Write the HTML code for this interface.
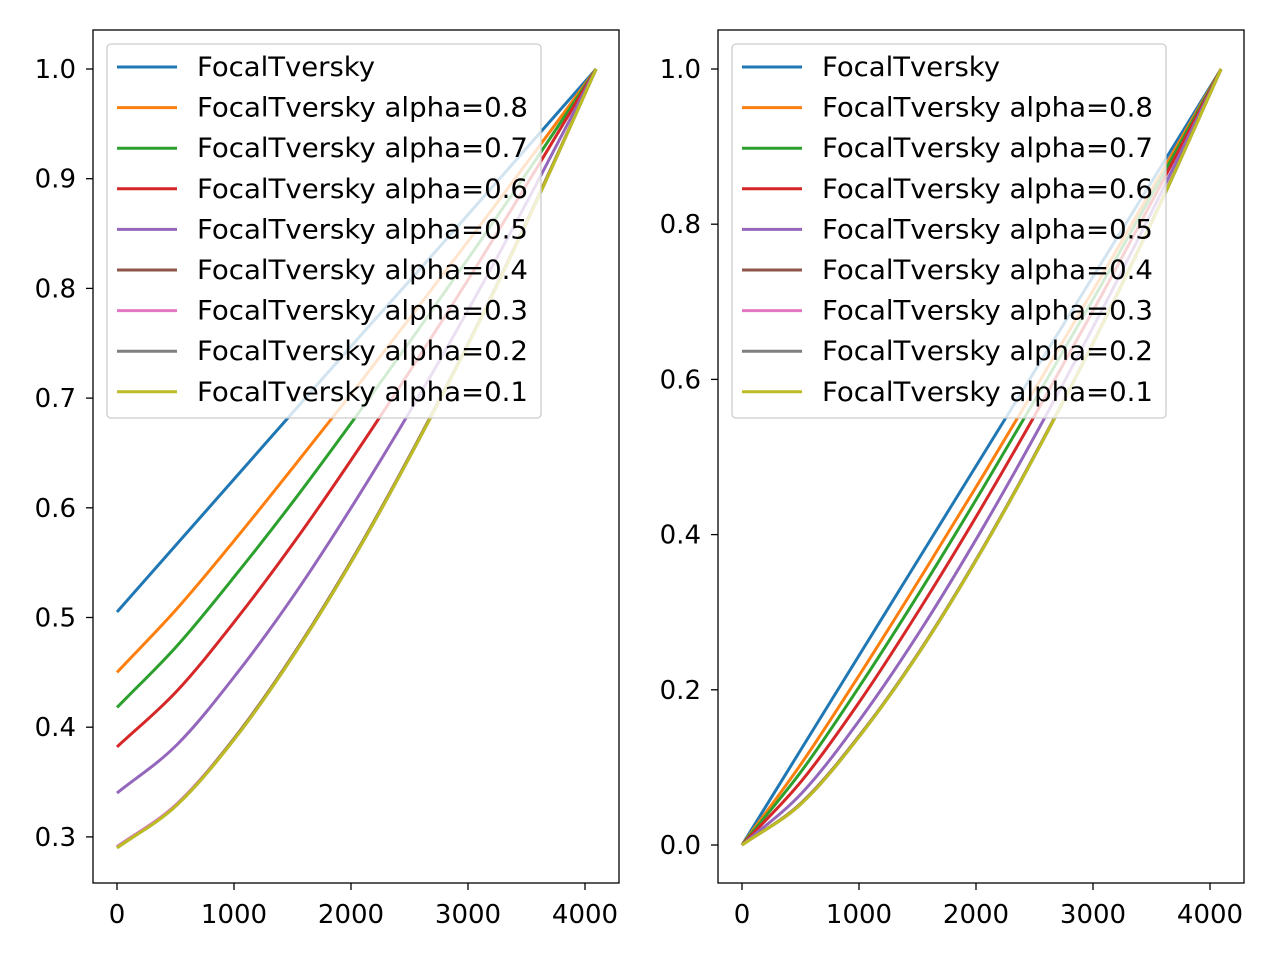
<!DOCTYPE html>
<html><head><meta charset="utf-8">
<style>
html,body{margin:0;padding:0;background:#fff;}
svg{display:block;font-family:"DejaVu Sans","Liberation Sans",sans-serif;}
</style></head>
<body>
<svg id="chart" width="1280" height="960" viewBox="0 0 1280 960" xmlns="http://www.w3.org/2000/svg">
<rect width="1280" height="960" fill="#fff"/>
</svg>
<script>
const xSamples = [0, 512, 1024, 1536, 2048, 2560, 3072, 3584, 4095];
const seriesNames = ["FocalTversky","FocalTversky alpha=0.8","FocalTversky alpha=0.7","FocalTversky alpha=0.6","FocalTversky alpha=0.5","FocalTversky alpha=0.4","FocalTversky alpha=0.3","FocalTversky alpha=0.2","FocalTversky alpha=0.1"];
const colors = ["#1f77b4","#ff7f0e","#2ca02c","#d62728","#9467bd","#8c564b","#e377c2","#7f7f7f","#bcbd22"];
const leftSeries = [
 [0.505,0.567,0.629,0.691,0.753,0.814,0.876,0.938,1.0],
 [0.450,0.508,0.573,0.641,0.710,0.781,0.853,0.926,1.0],
 [0.418,0.474,0.540,0.610,0.684,0.760,0.838,0.918,1.0],
 [0.382,0.433,0.499,0.572,0.651,0.734,0.820,0.909,1.0],
 [0.340,0.384,0.449,0.524,0.608,0.698,0.794,0.895,1.0],
 [0.291,0.330,0.393,0.471,0.560,0.659,0.765,0.880,1.0],
 [0.291,0.330,0.392,0.470,0.559,0.658,0.764,0.879,1.0],
 [0.290,0.329,0.392,0.470,0.559,0.658,0.764,0.879,1.0],
 [0.290,0.329,0.392,0.470,0.559,0.658,0.764,0.879,1.0]
];
const rightSeries = [
 [0,0.125,0.250,0.375,0.500,0.625,0.750,0.875,1.0],
 [0,0.106,0.224,0.347,0.473,0.602,0.733,0.866,1.0],
 [0,0.096,0.209,0.330,0.457,0.588,0.722,0.860,1.0],
 [0,0.083,0.189,0.308,0.435,0.569,0.708,0.852,1.0],
 [0,0.067,0.165,0.279,0.406,0.543,0.688,0.841,1.0],
 [0,0.055,0.145,0.254,0.380,0.519,0.669,0.830,1.0],
 [0,0.054,0.144,0.253,0.379,0.518,0.668,0.829,1.0],
 [0,0.054,0.144,0.253,0.379,0.518,0.668,0.829,1.0],
 [0,0.054,0.144,0.253,0.379,0.518,0.668,0.829,1.0]
];
const xTicks = [0,1000,2000,3000,4000];
const leftYTicks = [0.3,0.4,0.5,0.6,0.7,0.8,0.9,1.0];
const rightYTicks = [0.0,0.2,0.4,0.6,0.8,1.0];

const NS="http://www.w3.org/2000/svg";
const svg=document.getElementById('chart');
function mk(tag,attrs,parent){const e=document.createElementNS(NS,tag);for(const k in attrs)e.setAttribute(k,attrs[k]);(parent||svg).appendChild(e);return e;}

function smoothPath(pts){
  const n=pts.length;
  const ext=[[2*pts[0][0]-pts[1][0],2*pts[0][1]-pts[1][1]]].concat(pts,[[2*pts[n-1][0]-pts[n-2][0],2*pts[n-1][1]-pts[n-2][1]]]);
  let d='M'+pts[0][0].toFixed(2)+','+pts[0][1].toFixed(2);
  for(let i=1;i<ext.length-2;i++){
    const p0=ext[i-1],p1=ext[i],p2=ext[i+1],p3=ext[i+2];
    const c1=[p1[0]+(p2[0]-p0[0])/6,p1[1]+(p2[1]-p0[1])/6];
    const c2=[p2[0]-(p3[0]-p1[0])/6,p2[1]-(p3[1]-p1[1])/6];
    d+='C'+c1[0].toFixed(2)+','+c1[1].toFixed(2)+' '+c2[0].toFixed(2)+','+c2[1].toFixed(2)+' '+p2[0].toFixed(2)+','+p2[1].toFixed(2);
  }
  return d;
}

function panel(p){
  const g=mk('g',{});
  
  
  const X=v=>p.x0+v*p.xs;
  const yPix=v=>p.yOne+(1-v)*p.ys;
  p.series.forEach((s,i)=>{
    const pts=s.map((v,j)=>[X(xSamples[j]),yPix(v)]);
    const path=mk('path',{d:smoothPath(pts),fill:'none',stroke:colors[i],'stroke-width':3,'stroke-linejoin':'round'},g);
    
    
  });
  const fr=mk('rect',{x:p.left,y:30,width:526,height:853,fill:'none',stroke:'#000','stroke-width':1.3},g);
  
  
  xTicks.forEach(t=>{
    const x=X(t);
    mk('line',{x1:x,x2:x,y1:883,y2:890,stroke:'#000','stroke-width':1.3},g);
    const tx=mk('text',{x:x,y:923,'text-anchor':'middle','font-size':26,fill:'#000'},g);
    tx.textContent=String(t);
    
    
  });
  p.yTicks.forEach(t=>{
    const y=yPix(t);
    mk('line',{x1:p.left-7,x2:p.left,y1:y,y2:y,stroke:'#000','stroke-width':1.3},g);
    const tx=mk('text',{x:p.left-17,y:y+9,'text-anchor':'end','font-size':26,fill:'#000'},g);
    tx.textContent=t.toFixed(1);
    
    
  });
  const lg=mk('g',{},g);
  
  
  mk('rect',{x:p.left+14,y:44,width:434,height:374,rx:4,fill:'#fff','fill-opacity':0.8,stroke:'#ccc','stroke-width':1.3},lg);
  seriesNames.forEach((n,i)=>{
    const y=67+i*40.6;
    const e=mk('g',{},lg);
    
    
    mk('line',{x1:p.left+24,x2:p.left+84,y1:y,y2:y,stroke:colors[i],'stroke-width':3},e);
    const attrs={x:p.left+104,y:y+9,'font-size':27,fill:'#000',lengthAdjust:'spacingAndGlyphs'};
    attrs.textLength = i>0 ? 331 : 178;
    const tx=mk('text',attrs,e);
    tx.textContent=n;
  });
}
panel({name:'left-panel',left:93,x0:117,xs:0.117,yOne:69,ys:1097,series:leftSeries,yTicks:leftYTicks});
panel({name:'right-panel',left:718,x0:742,xs:0.117,yOne:69,ys:776,series:rightSeries,yTicks:rightYTicks});
</script>
</body></html>
